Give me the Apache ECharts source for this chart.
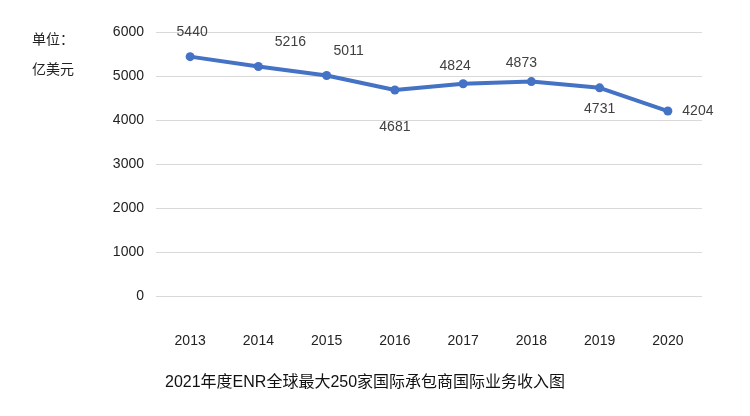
<!DOCTYPE html>
<html><head><meta charset="utf-8">
<script src="https://cdn.jsdelivr.net/npm/echarts@6/dist/echarts.min.js"></script>
<style>html,body{margin:0;background:#fff}#c{width:750px;height:416px}</style>
</head><body><div id="c"></div>
<script>
var years = ['2013','2014','2015','2016','2017','2018','2019','2020'];
var values = [5440,5216,5011,4681,4824,4873,4731,4204];
var labelPos = [[2,-24],[32,-24],[22,-24],[0,37],[-8,-18],[-10,-18],[0,21],[30,0]];
var font = '"Liberation Sans","Noto Sans CJK SC",sans-serif';
var chart = echarts.init(document.getElementById('c'));
chart.setOption({
  animation:false,
  textStyle:{fontFamily:font},
  title:{text:'2021年度ENR全球最大250家国际承包商国际业务收入图',left:160,top:370,
    textStyle:{fontSize:16,fontWeight:'normal',color:'#111',fontFamily:font}},
  graphic:[
    {type:'text',left:32,top:33,style:{text:'单位：',fontSize:14,fill:'#222',fontFamily:font}},
    {type:'text',left:32,top:63,style:{text:'亿美元',fontSize:14,fill:'#222',fontFamily:font}}
  ],
  grid:{left:156,right:48,top:32,bottom:120},
  xAxis:{type:'category',data:years,axisLine:{show:false},axisTick:{show:false},
    axisLabel:{margin:38,fontSize:14,color:'#222'}},
  yAxis:{type:'value',min:0,max:6000,interval:1000,
    axisLabel:{margin:12,fontSize:14,color:'#222',formatter:function(v){return String(v);}},
    splitLine:{lineStyle:{color:'#d9d9d9'}}},
  series:[{type:'line',data:values.map(function(v,i){
      return {value:v,label:{offset:labelPos[i]}};}),
    lineStyle:{color:'#4472C4',width:4},itemStyle:{color:'#4472C4'},
    symbol:'circle',symbolSize:9,
    label:{show:true,position:'inside',fontSize:14,color:'#404040'}}]
});
</script></body></html>
